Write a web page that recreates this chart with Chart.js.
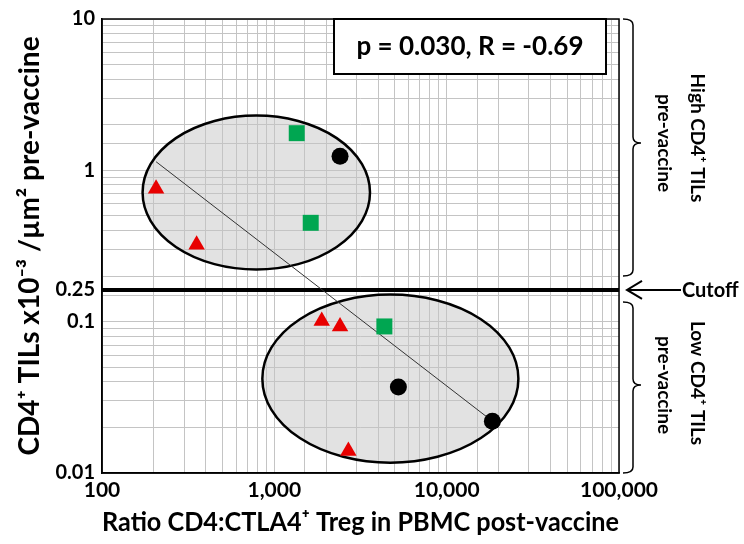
<!DOCTYPE html>
<html>
<head>
<meta charset="utf-8">
<script src="https://cdn.jsdelivr.net/npm/chart.js@4.4.1/dist/chart.umd.min.js"></script>
<style>
  html, body { margin: 0; padding: 0; background: #fff; }
  #wrap { width: 744px; height: 544px; }
</style>
</head>
<body>
<div id="wrap"><canvas id="grafic" width="744" height="544"></canvas></div>
<script>
// valori
var triX = [206, 354, 1884, 2406, 2689];
var triY = [0.755, 0.322, 0.101, 0.093, 0.014];
var sqX = [1349, 1626, 4350];
var sqY = [1.76, 0.45, 0.093];
var dotX = [2406, 5246, 18420];
var dotY = [1.24, 0.037, 0.022];
var fitX = [206, 18420];
var fitY = [1.14, 0.022];
var CUTOFF = 0.162;
var cutoffX = [100, 100000];
var xTickValues = [100, 1000, 10000, 100000];
var xTickLabels = ['100', '1,000', '10,000', '100,000'];
var yTickValues = [10, 1, CUTOFF, 0.1, 0.01];
var yTickLabels = ['10', '1', '0.25', '0.1', '0.01'];
// elipsele (limite in unitati de date)
var highEllX = [172, 3590], highEllY = [0.221, 2.30];
var lowEllX = [852, 26070], lowEllY = [0.0117, 0.151];

var FONT = 'Lato, "Open Sans", sans-serif';

function pts(xs, ys) { return xs.map(function (x, i) { return {x: x, y: ys[i]}; }); }

function labelFor(values, labels, v) {
    for (var i = 0; i < values.length; i++) {
        if (Math.abs(values[i] - v) / values[i] < 1e-6) return labels[i];
    }
    return '';
}

function ellipsePath(ctx, xs, ys, chart) {
    var sx = chart.scales.x, sy = chart.scales.y;
    var x1 = sx.getPixelForValue(xs[0]), x2 = sx.getPixelForValue(xs[1]);
    var y1 = sy.getPixelForValue(ys[1]), y2 = sy.getPixelForValue(ys[0]);
    ctx.beginPath();
    ctx.ellipse((x1 + x2) / 2, (y1 + y2) / 2, (x2 - x1) / 2, (y2 - y1) / 2, 0, 0, Math.PI * 2);
}

var ellipseFill = {
    id: 'ellipseFill',
    beforeDraw: function (chart) {
        var ctx = chart.ctx;
        ctx.save();
        ctx.fillStyle = '#e2e2e2';
        ellipsePath(ctx, highEllX, highEllY, chart); ctx.fill();
        ellipsePath(ctx, lowEllX, lowEllY, chart); ctx.fill();
        ctx.restore();
    },
    beforeDatasetsDraw: function (chart) {
        var ctx = chart.ctx, a = chart.chartArea;
        ctx.save();
        ctx.strokeStyle = '#000';
        ctx.lineWidth = 1.5;
        ctx.strokeRect(a.left, a.top, a.right - a.left, a.bottom - a.top);
        ctx.lineWidth = 2.5;
        ellipsePath(ctx, highEllX, highEllY, chart); ctx.stroke();
        ellipsePath(ctx, lowEllX, lowEllY, chart); ctx.stroke();
        ctx.restore();
    }
};

function brace(ctx, x, top, bottom, mid) {
    var w = 10, tip = 8;
    ctx.beginPath();
    ctx.moveTo(x - w, top);
    ctx.quadraticCurveTo(x, top, x, top + 6);
    ctx.lineTo(x, mid - 6);
    ctx.quadraticCurveTo(x, mid, x + tip, mid);
    ctx.quadraticCurveTo(x, mid, x, mid + 6);
    ctx.lineTo(x, bottom - 6);
    ctx.quadraticCurveTo(x, bottom, x - w, bottom);
    ctx.stroke();
}

var adnotari = {
    id: 'adnotari',
    afterDraw: function (chart) {
        var ctx = chart.ctx, a = chart.chartArea;
        var yc = chart.scales.y.getPixelForValue(CUTOFF);
        ctx.save();
        // caseta cu statistica
        ctx.fillStyle = '#fff';
        ctx.fillRect(334, a.top, 272, 55);
        ctx.strokeStyle = '#000';
        ctx.lineWidth = 2;
        ctx.strokeRect(334, a.top, 272, 55);
        ctx.fillStyle = '#000';
        ctx.font = 'bold 26px ' + FONT;
        ctx.textAlign = 'center';
        ctx.textBaseline = 'middle';
        ctx.fillText('p = 0.030, R = -0.69', 470, a.top + 28);

        // acolade
        ctx.lineWidth = 1.5;
        brace(ctx, 633, a.top, yc - 14, 143);
        brace(ctx, 633, yc + 12, a.bottom, 385);

        // sageata cutoff
        ctx.lineWidth = 2;
        ctx.beginPath();
        ctx.moveTo(681, yc);
        ctx.lineTo(627, yc);
        ctx.moveTo(642, yc - 9);
        ctx.lineTo(627, yc);
        ctx.lineTo(642, yc + 9);
        ctx.stroke();
        ctx.font = 'bold 20px ' + FONT;
        ctx.textAlign = 'left';
        ctx.fillText('Cutoff', 682, yc + 1);

        // texte verticale
        ctx.font = 'bold 19px ' + FONT;
        ctx.textAlign = 'center';
        var rot = function (txt, x, y) {
            ctx.save();
            ctx.translate(x, y);
            ctx.rotate(Math.PI / 2);
            ctx.fillText(txt, 0, 0);
            ctx.restore();
        };
        rot('High CD4\u207A TILs', 697, 138);
        rot('pre-vaccine', 664, 143);
        rot('Low CD4\u207A TILs', 697, 383);
        rot('pre-vaccine', 664, 385);
        ctx.restore();
    }
};

var ctx = document.getElementById('grafic').getContext('2d');
new Chart(ctx, {
    type: 'scatter',
    data: {
        datasets: [{
            label: 'triunghiuri',
            data: pts(triX, triY),
            pointStyle: 'triangle',
            pointRadius: 9.5,
            backgroundColor: '#e80000',
            borderColor: '#e80000',
            borderWidth: 0
        }, {
            label: 'patrate',
            data: pts(sqX, sqY),
            pointStyle: 'rect',
            pointRadius: 11.3,
            backgroundColor: '#00a651',
            borderColor: '#00a651',
            borderWidth: 0
        }, {
            label: 'cercuri',
            data: pts(dotX, dotY),
            pointStyle: 'circle',
            pointRadius: 8.5,
            backgroundColor: '#000',
            borderColor: '#000',
            borderWidth: 0
        }, {
            label: 'regresie',
            data: pts(fitX, fitY),
            showLine: true,
            pointRadius: 0,
            borderColor: '#333',
            borderWidth: 1
        }, {
            label: 'cutoff',
            data: pts(cutoffX, [CUTOFF, CUTOFF]),
            showLine: true,
            pointRadius: 0,
            borderColor: '#000',
            borderWidth: 4
        }]
    },
    options: {
        responsive: false,
        animation: false,
        layout: { padding: { left: 0, top: 14, right: 125, bottom: 0 } },
        plugins: {
            legend: { display: false },
            tooltip: { enabled: false }
        },
        scales: {
            x: {
                type: 'logarithmic',
                min: 100,
                max: 100000,
                afterFit: function (s) { s.height = 71; },
                grid: { color: '#c4c4c4', lineWidth: 1, drawTicks: false },
                border: { color: '#000', width: 1.5 },
                ticks: {
                    autoSkip: false,
                    maxRotation: 0,
                    padding: 5,
                    color: '#000',
                    font: { family: FONT, size: 21, weight: 'bold' },
                    callback: function (v) { return labelFor(xTickValues, xTickLabels, v); }
                },
                title: {
                    display: true,
                    text: 'Ratio CD4:CTLA4\u207A Treg in PBMC post-vaccine',
                    color: '#000',
                    font: { family: FONT, size: 27, weight: 'bold' },
                    padding: { top: 0, bottom: 6 }
                }
            },
            y: {
                type: 'logarithmic',
                min: 0.01,
                max: 10,
                afterFit: function (s) { s.width = 102; },
                afterBuildTicks: function (s) { s.ticks.push({ value: CUTOFF }); },
                grid: { color: '#c4c4c4', lineWidth: 1, drawTicks: false },
                border: { color: '#000', width: 1.5 },
                ticks: {
                    autoSkip: false,
                    padding: 7,
                    color: '#000',
                    font: { family: FONT, size: 20, weight: 'bold' },
                    callback: function (v) { return labelFor(yTickValues, yTickLabels, v); }
                },
                title: {
                    display: true,
                    text: 'CD4\u207A TILs x10\u207B\u00B3 /\u00B5m\u00B2 pre-vaccine',
                    color: '#000',
                    font: { family: FONT, size: 28, weight: 'bold' },
                    padding: { top: 13, bottom: 0 }
                }
            }
        }
    },
    plugins: [ellipseFill, adnotari]
});
</script>
</body>
</html>
